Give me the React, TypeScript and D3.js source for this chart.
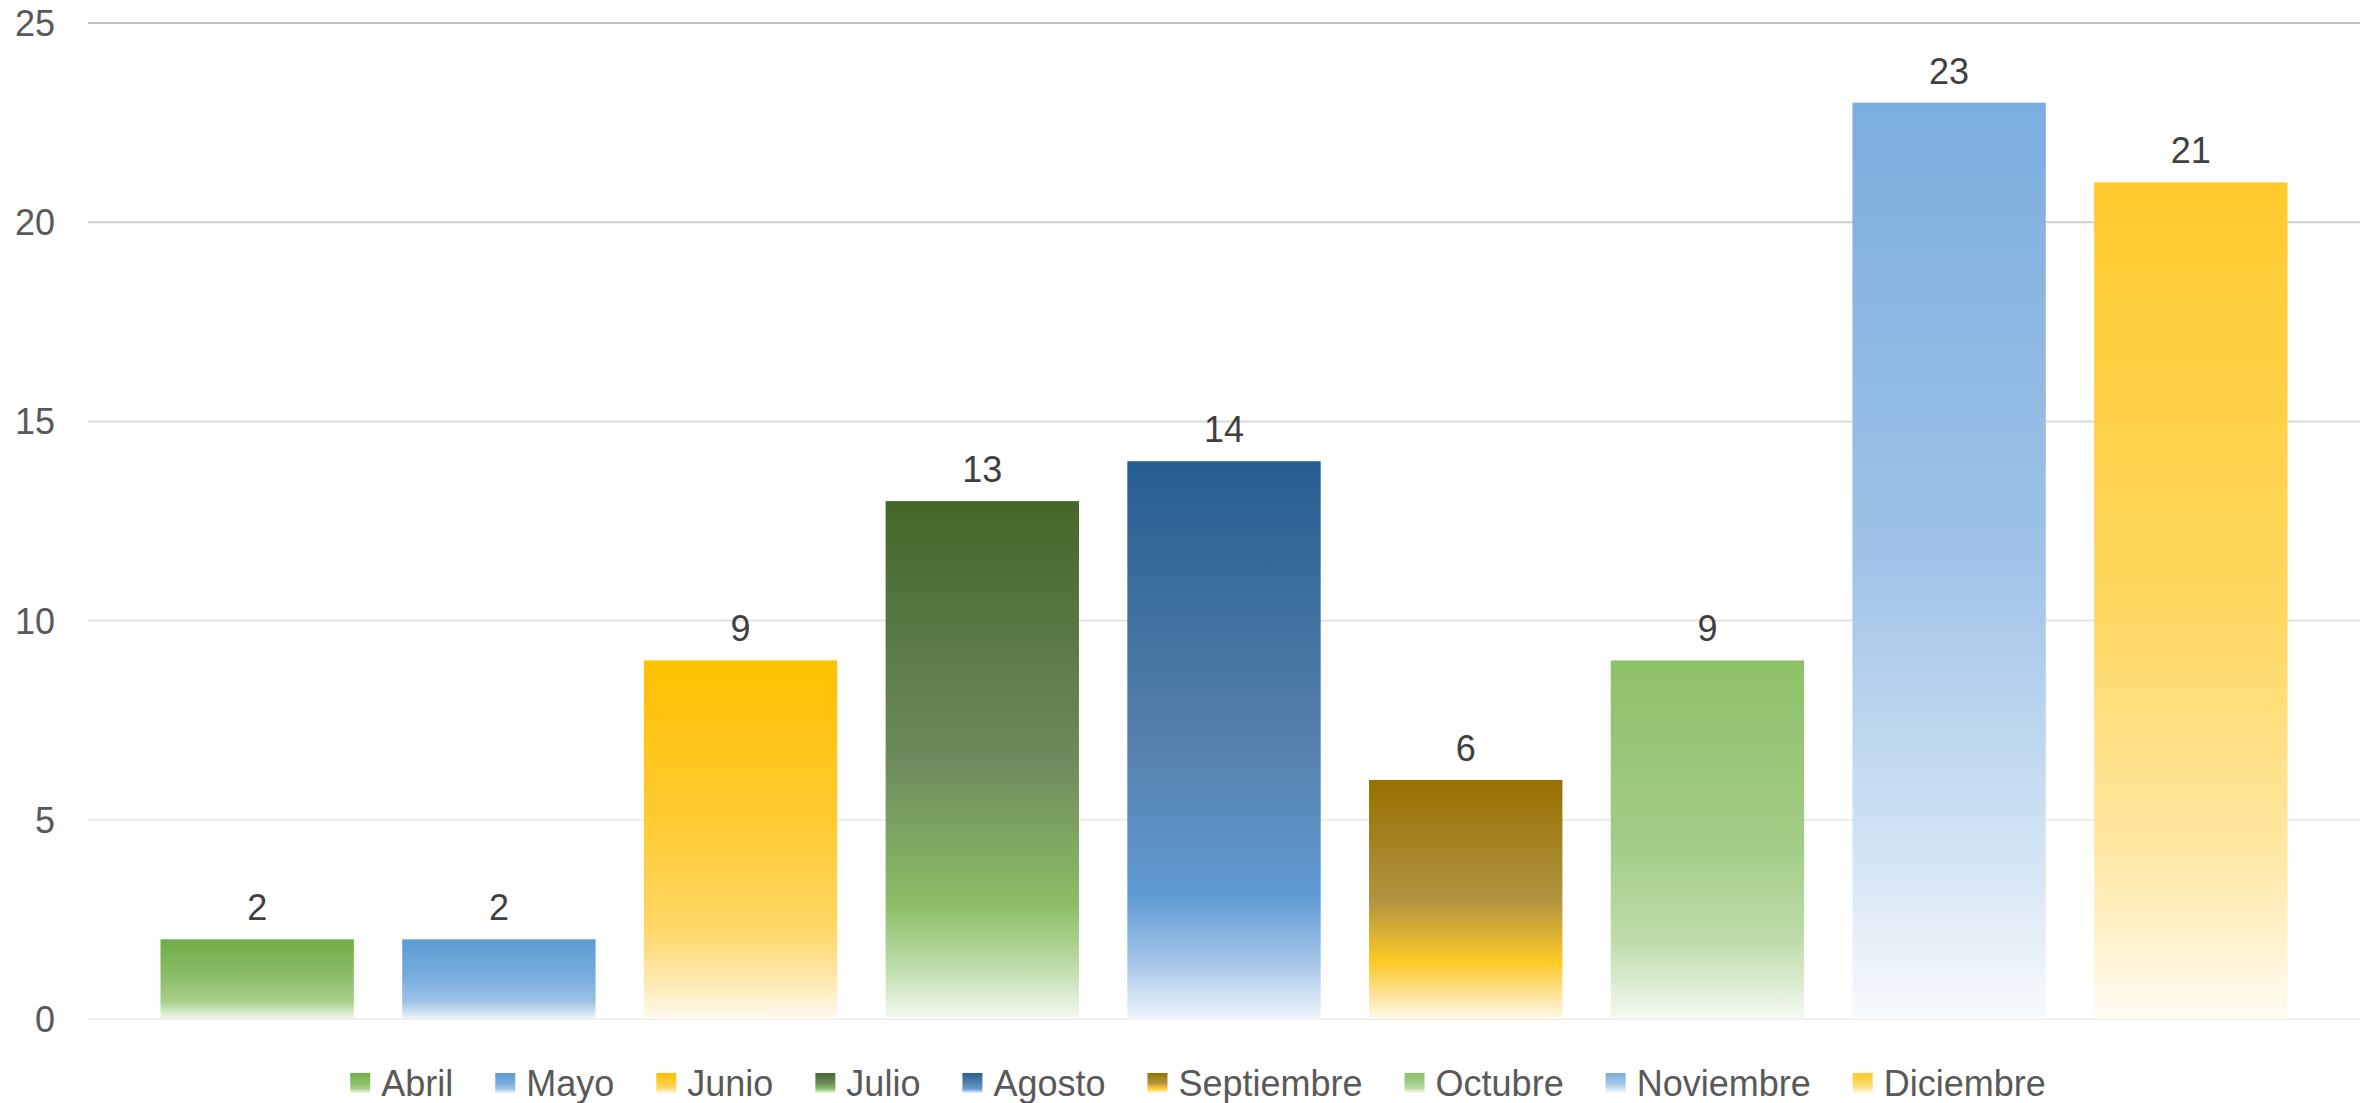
import React, { useEffect, useRef } from "react";
import * as d3 from "d3";

const months = [
  "Abril",
  "Mayo",
  "Junio",
  "Julio",
  "Agosto",
  "Septiembre",
  "Octubre",
  "Noviembre",
  "Diciembre",
];
const values = [2, 2, 9, 13, 14, 6, 9, 23, 21];
const yTicks = [0, 5, 10, 15, 20, 25];

// gradient stops per bar, top -> bottom
const barGradients: [number, string][][] = [
  [[0, "#6fac46"], [0.5, "#8ebf6c"], [0.78, "#a8cf8c"], [1, "#f2f7ee"]],
  [[0, "#5b9bd5"], [0.5, "#7aaede"], [0.78, "#9ec2e6"], [1, "#eef4fb"]],
  [[0, "#ffc000"], [0.45, "#ffcb33"], [0.75, "#ffd766"], [0.9, "#fee9b3"], [1, "#fffaef"]],
  [[0, "#43672a"], [0.5, "#6e8a5c"], [0.78, "#8bbf66"], [0.9, "#bedcaa"], [1, "#f5f9f2"]],
  [[0, "#255e91"], [0.5, "#5580ac"], [0.78, "#5f9bd4"], [0.9, "#a6c6e9"], [1, "#f0f5fb"]],
  [[0, "#967000"], [0.5, "#b09340"], [0.76, "#ffc926"], [0.9, "#fee39a"], [1, "#fff9ea"]],
  [[0, "#8dc168"], [0.5, "#a2cc86"], [0.78, "#bedcaa"], [1, "#f4f9f1"]],
  [[0, "#7badde"], [0.5, "#9fc3e7"], [0.8, "#d0e2f3"], [1, "#f7fafd"]],
  [[0, "#ffca2c"], [0.5, "#ffd75e"], [0.8, "#ffe8a3"], [1, "#fffcf3"]],
];
const gridColors = ["#eeeeee", "#ebebeb", "#e3e3e3", "#d9d9d9", "#cecece", "#c4c4c4"];

const W = 2371;
const H = 1103;
const FONT = "'Liberation Sans', Arial, sans-serif";

export default function App() {
  const ref = useRef<SVGSVGElement>(null);

  useEffect(() => {
    const svg = d3.select(ref.current);
    svg.selectAll("*").remove();

    const x = d3
      .scaleBand()
      .domain(months)
      .range([88, 2360])
      .paddingInner(0.2)
      .paddingOuter(0.3);
    const y = d3.scaleLinear().domain([0, 25]).range([1019, 23]);

    const defs = svg.append("defs");
    months.forEach((m, i) => {
      const g = defs
        .append("linearGradient")
        .attr("id", `grad${i}`)
        .attr("x1", 0)
        .attr("y1", 0)
        .attr("x2", 0)
        .attr("y2", 1);
      barGradients[i].forEach(([o, c]) => {
        g.append("stop").attr("offset", o).attr("stop-color", c);
      });
    });

    // gridlines
    svg
      .append("g")
      .selectAll("line")
      .data(yTicks)
      .enter()
      .append("line")
      .attr("x1", 88)
      .attr("x2", 2360)
      .attr("y1", (d) => y(d))
      .attr("y2", (d) => y(d))
      .attr("stroke", (d, i) => gridColors[i])
      .attr("stroke-width", 2);

    // y tick labels
    svg
      .append("g")
      .selectAll("text")
      .data(yTicks)
      .enter()
      .append("text")
      .attr("x", 55)
      .attr("y", (d) => y(d))
      .attr("dy", "0.36em")
      .attr("text-anchor", "end")
      .style("font-family", FONT)
      .style("font-size", "36px")
      .attr("fill", "#595959")
      .text((d) => d);

    // bars
    svg
      .append("g")
      .selectAll("rect")
      .data(values)
      .enter()
      .append("rect")
      .attr("x", (d, i) => x(months[i])!)
      .attr("width", x.bandwidth())
      .attr("y", (d) => y(d))
      .attr("height", (d) => y(0) - y(d))
      .attr("fill", (d, i) => `url(#grad${i})`);

    // data labels
    svg
      .append("g")
      .selectAll("text")
      .data(values)
      .enter()
      .append("text")
      .attr("x", (d, i) => x(months[i])! + x.bandwidth() / 2)
      .attr("y", (d) => y(d) - 19)
      .attr("text-anchor", "middle")
      .style("font-family", FONT)
      .style("font-size", "36px")
      .attr("fill", "#404040")
      .text((d) => d);

    // legend
    const legend = svg.append("g");
    const items = legend
      .selectAll("g")
      .data(months)
      .enter()
      .append("g");
    items
      .append("rect")
      .attr("width", 20)
      .attr("height", 20)
      .attr("y", -10)
      .attr("fill", (d, i) => `url(#grad${i})`);
    const labels = items
      .append("text")
      .attr("x", 31)
      .attr("dy", "0.36em")
      .style("font-family", FONT)
      .style("font-size", "36px")
      .attr("fill", "#595959")
      .text((d) => d);

    let cx = 0;
    const gap = 42;
    labels.each(function (d, i) {
      const w = (this as SVGTextElement).getComputedTextLength();
      d3.select(items.nodes()[i]).attr("transform", `translate(${cx},0)`);
      cx += 31 + w + gap;
    });
    const total = cx - gap;
    legend.attr("transform", `translate(${1198 - total / 2},1083)`);
  }, []);

  return (
    <svg
      ref={ref}
      width={W}
      height={H}
      style={{ position: "absolute", left: 0, top: 0, background: "#fff" }}
    />
  );
}
